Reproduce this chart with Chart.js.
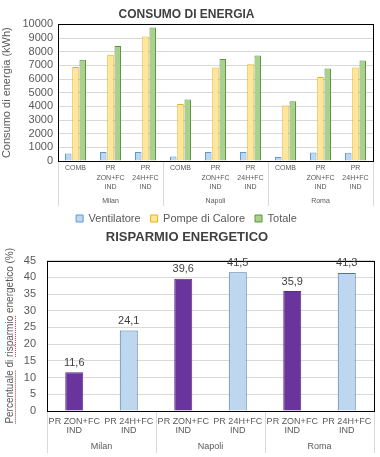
<!DOCTYPE html>
<html>
<head>
<meta charset="utf-8">
<script src="https://cdn.jsdelivr.net/npm/chart.js@4.4.1/dist/chart.umd.min.js"></script>
<style>
  html, body { margin: 0; padding: 0; background: #fff; }
  canvas { position: absolute; left: 0; }
  #top { top: 0; }
  #bot { top: 226px; }
</style>
</head>
<body>
<canvas id="top" width="380" height="234"></canvas>
<canvas id="bot" width="380" height="231"></canvas>
<script>
// data
const cities = ['Milan', 'Napoli', 'Roma'];
const configs = [['COMB'], ['PR', 'ZON+FC', 'IND'], ['PR', '24H+FC', 'IND']];
const ventilatore = [540, 660, 660, 330, 650, 650, 300, 620, 610];
const pompe = [6890, 7780, 9110, 4170, 6840, 7090, 4070, 6150, 6840];
const totale = [7420, 8420, 9780, 4500, 7470, 7720, 4380, 6770, 7360];

const savingConfigs = [['PR ZON+FC', 'IND'], ['PR 24H+FC', 'IND']];
const saving = [11.6, 24.1, 39.6, 41.5, 35.9, 41.3];

Chart.defaults.font.family = "'Liberation Sans', Arial, sans-serif";
Chart.defaults.color = '#595959';

// repeat the sub categories once per city
function cityLabels(sub) {
    let out = [];
    cities.forEach(() => sub.forEach(s => out.push(s)));
    return out;
}

// city row + separator lines under the x axis, plus black frame round the plot
function groupPlugin(fontSize, rowY, lineLen) {
    return {
        id: 'groups',
        afterDatasetsDraw(chart) {
            const ctx = chart.ctx, a = chart.chartArea, x = chart.scales.x;
            const n = cities.length, per = chart.data.labels.length / n;
            ctx.save();
            ctx.strokeStyle = '#d9d9d9';
            ctx.lineWidth = 1;
            for (let i = 0; i <= n; i++) {
                let px;
                if (i === 0) px = a.left;
                else if (i === n) px = a.right;
                else px = (x.getPixelForValue(i * per - 1) + x.getPixelForValue(i * per)) / 2;
                px = Math.round(px) + 0.5;
                ctx.beginPath();
                ctx.moveTo(px, a.bottom);
                ctx.lineTo(px, a.bottom + lineLen);
                ctx.stroke();
            }
            ctx.fillStyle = '#595959';
            ctx.font = fontSize + "px 'Liberation Sans', Arial, sans-serif";
            ctx.textAlign = 'center';
            ctx.textBaseline = 'middle';
            for (let i = 0; i < n; i++) {
                const cx = (x.getPixelForValue(i * per) + x.getPixelForValue(i * per + per - 1)) / 2;
                ctx.fillText(cities[i], cx, a.bottom + rowY);
            }
            ctx.strokeStyle = '#000';
            ctx.strokeRect(Math.round(a.left) + 0.5, Math.round(a.top) + 0.5,
                Math.round(a.right - a.left), Math.round(a.bottom - a.top));
            ctx.restore();
        }
    };
}

const topChart = new Chart(document.getElementById('top'), {
    type: 'bar',
    data: {
        labels: cityLabels(configs),
        datasets: [
            { label: 'Ventilatore', data: ventilatore, backgroundColor: '#bdd7ee', borderColor: '#5b9bd5', borderWidth: 1 },
            { label: 'Pompe di Calore', data: pompe, backgroundColor: '#ffe699', borderColor: '#e8b21a', borderWidth: 1 },
            { label: 'Totale', data: totale, backgroundColor: '#a9d18e', borderColor: '#5f9440', borderWidth: 1 }
        ]
    },
    options: {
        responsive: false,
        animation: false,
        categoryPercentage: 0.62,
        barPercentage: 0.9,
        layout: { padding: { left: 0, right: 7, top: 0, bottom: 0 } },
        plugins: {
            title: {
                display: true, text: 'CONSUMO DI ENERGIA', color: '#404040',
                font: { size: 12, weight: 'bold' }, padding: { top: 7, bottom: 3 }
            },
            legend: {
                position: 'bottom',
                labels: { boxWidth: 7, boxHeight: 7, color: '#595959', font: { size: 11 }, padding: 10 }
            },
            tooltip: { enabled: false }
        },
        scales: {
            x: {
                grid: { display: false, drawTicks: false },
                border: { display: false },
                ticks: { color: '#595959', font: { size: 7, lineHeight: 1.3 }, padding: 3, maxRotation: 0, autoSkip: false },
                afterFit(s) { s.height = 42; }
            },
            y: {
                min: 0, max: 10000,
                grid: { color: '#d9d9d9', drawTicks: false },
                border: { display: false },
                ticks: {
                    stepSize: 1000, color: '#595959', font: { size: 11, lineHeight: 1 }, padding: 5,
                    autoSkip: false, callback: v => String(v)
                },
                title: { display: true, text: 'Consumo di energia (kWh)', color: '#595959', font: { size: 11 }, padding: { top: 0, bottom: 0 } },
                afterFit(s) { s.width = 58; }
            }
        }
    },
    plugins: [groupPlugin(7, 40, 45)]
});

// value labels with comma decimals, plus the rotated axis title with its red spell-check dots
const savingExtras = {
    id: 'savingExtras',
    afterDatasetsDraw(chart) {
        const ctx = chart.ctx;
        const meta = chart.getDatasetMeta(0);
        ctx.save();
        ctx.fillStyle = '#404040';
        ctx.font = "11px 'Liberation Sans', Arial, sans-serif";
        ctx.textAlign = 'center';
        ctx.textBaseline = 'bottom';
        meta.data.forEach((bar, i) => {
            ctx.fillText(saving[i].toFixed(1).replace('.', ','), bar.x, bar.y - 4);
        });
        ctx.restore();
    },
    afterDraw(chart) {
        const ctx = chart.ctx, a = chart.chartArea;
        const words = ['Percentuale', ' di ', 'risparmio', ' energetico (%)'];
        ctx.save();
        ctx.font = "10px 'Liberation Sans', Arial, sans-serif";
        const full = words.join('');
        const w = ctx.measureText(full).width;
        ctx.translate(10, (a.top + a.bottom) / 2);
        ctx.rotate(-Math.PI / 2);
        ctx.fillStyle = '#595959';
        ctx.textAlign = 'left';
        ctx.textBaseline = 'middle';
        ctx.fillText(full, -w / 2, 0);
        // dotted underline under the two flagged words
        let pos = -w / 2;
        ctx.fillStyle = '#e03030';
        words.forEach((wd, i) => {
            const ww = ctx.measureText(wd).width;
            if (i === 0 || i === 2) {
                for (let d = pos; d < pos + ww; d += 2) ctx.fillRect(d, 5, 1, 1);
            }
            pos += ww;
        });
        ctx.restore();
    }
};

const botChart = new Chart(document.getElementById('bot'), {
    type: 'bar',
    data: {
        labels: cityLabels(savingConfigs),
        datasets: [{
            label: 'Risparmio',
            data: saving,
            backgroundColor: saving.map((v, i) => i % 2 === 0 ? '#69359c' : '#bdd7ee'),
            borderColor: saving.map((v, i) => i % 2 === 0 ? '#5a2d86' : '#4f70a8'),
            borderWidth: 1
        }]
    },
    options: {
        responsive: false,
        animation: false,
        categoryPercentage: 1,
        barPercentage: 0.33,
        layout: { padding: { left: 0, right: 6, top: 0, bottom: 0 } },
        plugins: {
            title: {
                display: true, text: 'RISPARMIO ENERGETICO', color: '#404040',
                font: { size: 13, weight: 'bold' }, padding: { top: 4, bottom: 15 }
            },
            legend: { display: false },
            tooltip: { enabled: false }
        },
        scales: {
            x: {
                grid: { display: false, drawTicks: false },
                border: { display: false },
                ticks: { color: '#595959', font: { size: 9, lineHeight: 1.0 }, padding: 6, maxRotation: 0, autoSkip: false },
                afterFit(s) { s.height = 46; }
            },
            y: {
                min: 0, max: 45,
                grid: { color: '#d9d9d9', drawTicks: false },
                border: { display: false },
                ticks: { stepSize: 5, color: '#595959', font: { size: 11 }, padding: 11 },
                afterFit(s) { s.width = 47; }
            }
        }
    },
    plugins: [groupPlugin(9, 36, 42), savingExtras]
});
</script>
</body>
</html>
